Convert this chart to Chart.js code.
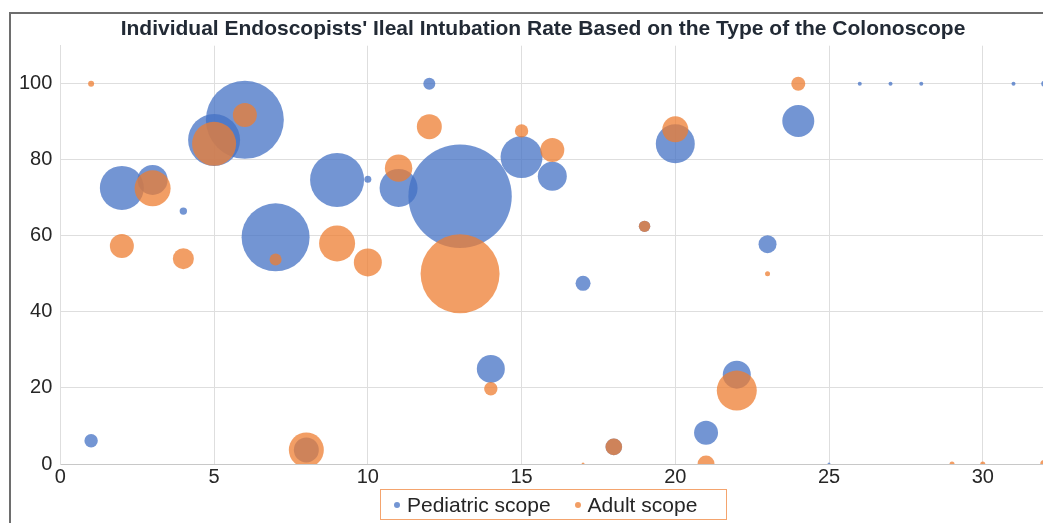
<!DOCTYPE html>
<html>
<head>
<meta charset="utf-8">
<title>Ileal Intubation Rate by Colonoscope Type</title>
<script src="https://cdn.jsdelivr.net/npm/chart.js@4.4.1/dist/chart.umd.min.js"></script>
<style>
  html, body { margin: 0; padding: 0; background: #fff; overflow: hidden; }
  #wrap { position: relative; width: 1043px; height: 523px; overflow: hidden; }
  #frame {
    position: absolute; left: 9px; top: 12px; width: 1100px; height: 600px;
    border-left: 2px solid #6e6e6e; border-top: 2px solid #6e6e6e;
  }
  #chart { position: absolute; left: 0; top: -6px; }
  #legend {
    position: absolute; left: 380px; top: 489px; width: 347px; height: 31px;
    box-sizing: border-box; border: 1.5px solid #f4a46e;
    display: flex; align-items: center; padding-left: 13px;
    font-family: 'Liberation Sans', Arial, sans-serif; font-size: 21px; color: #262626;
  }
  #legend .item { display: flex; align-items: center; margin-right: 24px; white-space: nowrap; }
  #legend .dot { width: 6px; height: 6px; border-radius: 50%; margin-right: 7px; }
</style>
</head>
<body>
<div id="wrap">
  <div id="frame"></div>
  <canvas id="chart" width="1127" height="529"></canvas>
  <div id="legend"></div>
</div>
<script>
// Endoscopist number (x), ileal intubation rate % (y), bubble size (radius)
const pediatricX = [1, 2, 3, 4, 5, 6, 7, 8, 9, 10, 11, 12, 13, 14, 15, 16, 17, 18, 19, 20, 21, 22, 23, 24, 25, 26, 27, 28, 31, 32];
const pediatricY = [6.1, 72.6, 74.7, 66.5, 85.2, 90.5, 59.6, 3.7, 74.7, 74.9, 72.6, 100, 70.4, 25, 80.7, 75.7, 47.5, 4.5, 62.5, 84.2, 8.2, 23.5, 57.8, 90.2, 0, 100, 100, 100, 100, 100];
const pediatricSize = [6.7, 22, 15, 3.7, 26, 39, 34, 12.5, 27, 3.5, 19, 6, 51.7, 14, 21, 14.5, 7.5, 8.3, 5.7, 19.5, 12, 14, 9, 16, 1.5, 2, 2, 2, 2, 3];

const adultX = [1, 2, 3, 4, 5, 6, 7, 8, 9, 10, 11, 12, 13, 14, 15, 16, 17, 18, 19, 20, 21, 22, 23, 24, 29, 30, 32];
const adultY = [100, 57.3, 72.5, 54, 84.2, 91.8, 53.8, 3.7, 58, 53, 77.8, 88.7, 50, 19.8, 87.6, 82.6, 0, 4.5, 62.5, 88, 0, 19.3, 50, 100, 0, 0, 0];
const adultSize = [3, 12, 18, 10.5, 22, 12, 6, 17.5, 18, 14, 13.7, 12.5, 39.5, 6.7, 6.7, 12, 1.5, 8.3, 5.7, 13, 8.5, 20, 2.5, 7, 2.5, 2.5, 4];

const xTicks = [0, 5, 10, 15, 20, 25, 30];
const yTicks = [0, 20, 40, 60, 80, 100];

function toPoints(xs, ys, rs) {
  return xs.map((x, i) => ({ x: x, y: ys[i], r: rs[i] }));
}

// legenda HTML di bawah grafik, dibuat dari dataset chart
function buildLegend(chart) {
  const box = document.getElementById('legend');
  box.innerHTML = '';
  chart.data.datasets.forEach((ds) => {
    const item = document.createElement('span');
    item.className = 'item';
    const dot = document.createElement('span');
    dot.className = 'dot';
    dot.style.background = ds.backgroundColor;
    item.appendChild(dot);
    item.appendChild(document.createTextNode(ds.label));
    box.appendChild(item);
  });
}

const font = "'Liberation Sans', Arial, sans-serif";

const chart = new Chart(document.getElementById('chart'), {
  type: 'bubble',
  data: {
    datasets: [
      {
        label: 'Pediatric scope',
        data: toPoints(pediatricX, pediatricY, pediatricSize),
        backgroundColor: 'rgba(68, 114, 196, 0.75)',
        borderWidth: 0,
        clip: 0,
        order: 2
      },
      {
        label: 'Adult scope',
        data: toPoints(adultX, adultY, adultSize),
        backgroundColor: 'rgba(237, 125, 49, 0.75)',
        borderWidth: 0,
        clip: 0,
        order: 1 // oranye digambar di atas biru
      }
    ]
  },
  options: {
    responsive: false,
    animation: false,
    layout: { padding: { left: 11, right: 52, top: 0, bottom: 33 } },
    plugins: {
      title: {
        display: true,
        text: "Individual Endoscopists' Ileal Intubation Rate Based on the Type of the Colonoscope",
        color: '#222a35',
        font: { family: font, size: 21, weight: 'bold' },
        padding: { top: 21, bottom: 4 }
      },
      legend: { display: false },
      tooltip: { enabled: false }
    },
    scales: {
      x: {
        type: 'linear',
        min: 0,
        max: 33,
        afterBuildTicks: (scale) => {
          scale.ticks = xTicks.map(v => ({ value: v }));
        },
        grid: { color: '#dedede', drawTicks: false },
        border: { color: '#c8c8c8' },
        ticks: { color: '#262626', font: { family: font, size: 20 }, padding: 1, maxRotation: 0 }
      },
      y: {
        min: 0,
        max: 110,
        afterBuildTicks: (scale) => {
          scale.ticks = yTicks.map(v => ({ value: v }));
        },
        grid: { color: '#dedede', drawTicks: false },
        border: { color: '#dedede' },
        ticks: { color: '#262626', font: { family: font, size: 20 }, padding: 8 }
      }
    }
  }
});

buildLegend(chart);
</script>
</body>
</html>
